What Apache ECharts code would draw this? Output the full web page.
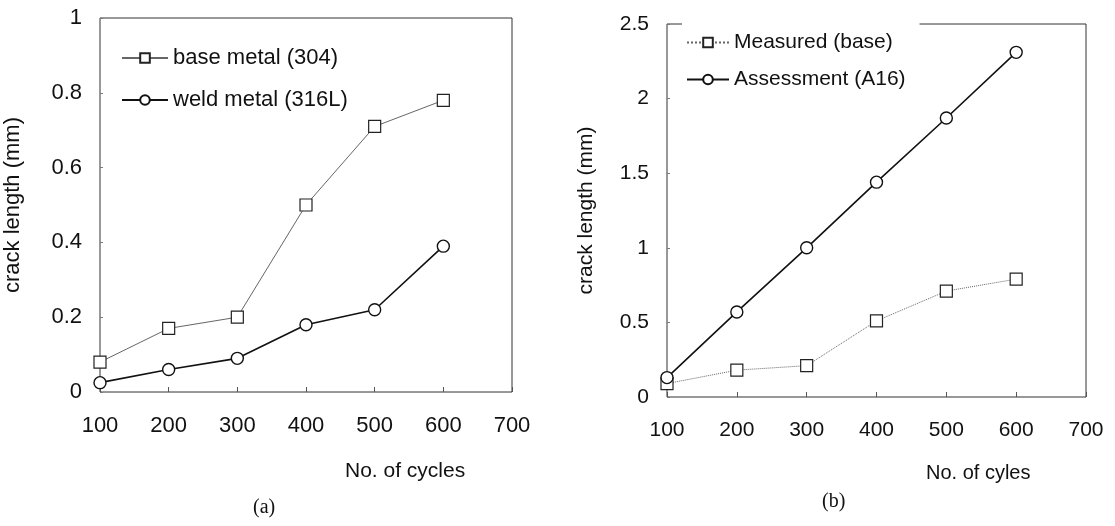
<!DOCTYPE html>
<html lang="en">
  <head>
    <meta charset="utf-8" />
    <style>
      html, body { margin: 0; padding: 0; background: #fff; }
      #container { width: 1115px; height: 526px; }
    </style>
  </head>
  <body>
    <div id="container"></div>
    <script type="text/javascript" src="https://cdn.jsdelivr.net/npm/echarts@6/dist/echarts.min.js"></script>
    <script type="text/javascript">
      // values
      var cycles = [100, 200, 300, 400, 500, 600];
      var baseMetal = [0.08, 0.17, 0.2, 0.5, 0.71, 0.78];
      var weldMetal = [0.025, 0.06, 0.09, 0.18, 0.22, 0.39];
      var measuredBase = [0.09, 0.18, 0.21, 0.51, 0.71, 0.79];
      var assessmentA16 = [0.13, 0.57, 1.0, 1.44, 1.87, 2.31];

      function pairs(ys) {
        return cycles.map(function (c, i) { return [c, ys[i]]; });
      }

      var dom = document.getElementById("container");
      var myChart = echarts.init(dom, null, { renderer: "canvas" });

      var font = "'Liberation Sans', Arial, sans-serif";
      var tickLabel = { color: "#111", fontFamily: font, fontSize: 22, margin: 18 };

      var option = {
        animation: false,
        backgroundColor: "#fff",
        textStyle: { fontFamily: font, color: "#111" },
        grid: [
          { left: 100, top: 18, width: 412, height: 374, show: true, borderColor: "#333", borderWidth: 1 },
          { left: 667, top: 24, width: 419, height: 373, show: true, borderColor: "#333", borderWidth: 1 }
        ],
        xAxis: [
          {
            gridIndex: 0, type: "value", min: 100, max: 700, interval: 100,
            axisLine: { show: false }, splitLine: { show: false },
            axisTick: { inside: true, length: 5, lineStyle: { color: "#555" } },
            axisLabel: Object.assign({}, tickLabel, { margin: 23 })
          },
          {
            gridIndex: 1, type: "value", min: 100, max: 700, interval: 100,
            axisLine: { show: false }, splitLine: { show: false },
            axisTick: { inside: true, length: 5, lineStyle: { color: "#555" } },
            axisLabel: Object.assign({}, tickLabel, { fontSize: 21, margin: 23 })
          }
        ],
        yAxis: [
          {
            gridIndex: 0, type: "value", min: 0, max: 1, interval: 0.2,
            axisLine: { show: false }, splitLine: { show: false },
            axisTick: { inside: true, length: 3, lineStyle: { color: "#777" } },
            axisLabel: tickLabel,
            name: "crack length (mm)", nameLocation: "middle", nameGap: 76,
            nameTextStyle: { fontFamily: font, fontSize: 22, color: "#111" }
          },
          {
            gridIndex: 1, type: "value", min: 0, max: 2.5, interval: 0.5,
            axisLine: { show: false }, splitLine: { show: false },
            axisTick: { inside: true, length: 3, lineStyle: { color: "#777" } },
            axisLabel: Object.assign({}, tickLabel, { fontSize: 21 }),
            name: "crack length (mm)", nameLocation: "middle", nameGap: 70,
            nameTextStyle: { fontFamily: font, fontSize: 21, color: "#111" }
          }
        ],
        legend: [
          {
            data: ["base metal (304)", "weld metal (316L)"],
            orient: "vertical", left: 116, top: 42, itemGap: 20,
            itemWidth: 46, itemHeight: 12,
            textStyle: { fontFamily: font, fontSize: 22, color: "#111" }
          },
          {
            data: ["Measured (base)", "Assessment (A16)"],
            orient: "vertical", left: 682, top: 18, itemGap: 16,
            padding: [14, 14, 6, 4],
            backgroundColor: "#fff",
            itemWidth: 42, itemHeight: 12,
            textStyle: { fontFamily: font, fontSize: 21, color: "#111" }
          }
        ],
        series: [
          {
            name: "base metal (304)", type: "line", xAxisIndex: 0, yAxisIndex: 0,
            data: pairs(baseMetal), symbol: "rect", symbolSize: 12,
            lineStyle: { color: "#666", width: 1 },
            itemStyle: { color: "#fff", borderColor: "#222", borderWidth: 1.2 }
          },
          {
            name: "weld metal (316L)", type: "line", xAxisIndex: 0, yAxisIndex: 0,
            data: pairs(weldMetal), symbol: "circle", symbolSize: 12,
            lineStyle: { color: "#111", width: 1.6 },
            itemStyle: { color: "#fff", borderColor: "#111", borderWidth: 1.4 }
          },
          {
            name: "Measured (base)", type: "line", xAxisIndex: 1, yAxisIndex: 1,
            data: pairs(measuredBase), symbol: "rect", symbolSize: 12,
            lineStyle: { color: "#666", width: 1, type: "dotted" },
            itemStyle: { color: "#fff", borderColor: "#222", borderWidth: 1.2 }
          },
          {
            name: "Assessment (A16)", type: "line", xAxisIndex: 1, yAxisIndex: 1,
            data: pairs(assessmentA16), symbol: "circle", symbolSize: 12,
            lineStyle: { color: "#111", width: 1.6 },
            itemStyle: { color: "#fff", borderColor: "#111", borderWidth: 1.4 }
          }
        ],
        graphic: [
          { type: "text", left: 345, top: 461, style: { text: "No. of cycles", fontFamily: font, fontSize: 21, fill: "#111" } },
          { type: "text", left: 926, top: 463, style: { text: "No. of cyles", fontFamily: font, fontSize: 20, fill: "#111" } },
          { type: "text", left: 253, top: 498, style: { text: "(a)", fontFamily: "'Liberation Serif', serif", fontSize: 20, fill: "#111" } },
          { type: "text", left: 822, top: 492, style: { text: "(b)", fontFamily: "'Liberation Serif', serif", fontSize: 20, fill: "#111" } }
        ]
      };

      myChart.setOption(option);
      window.addEventListener("resize", myChart.resize);
    </script>
  </body>
</html>
